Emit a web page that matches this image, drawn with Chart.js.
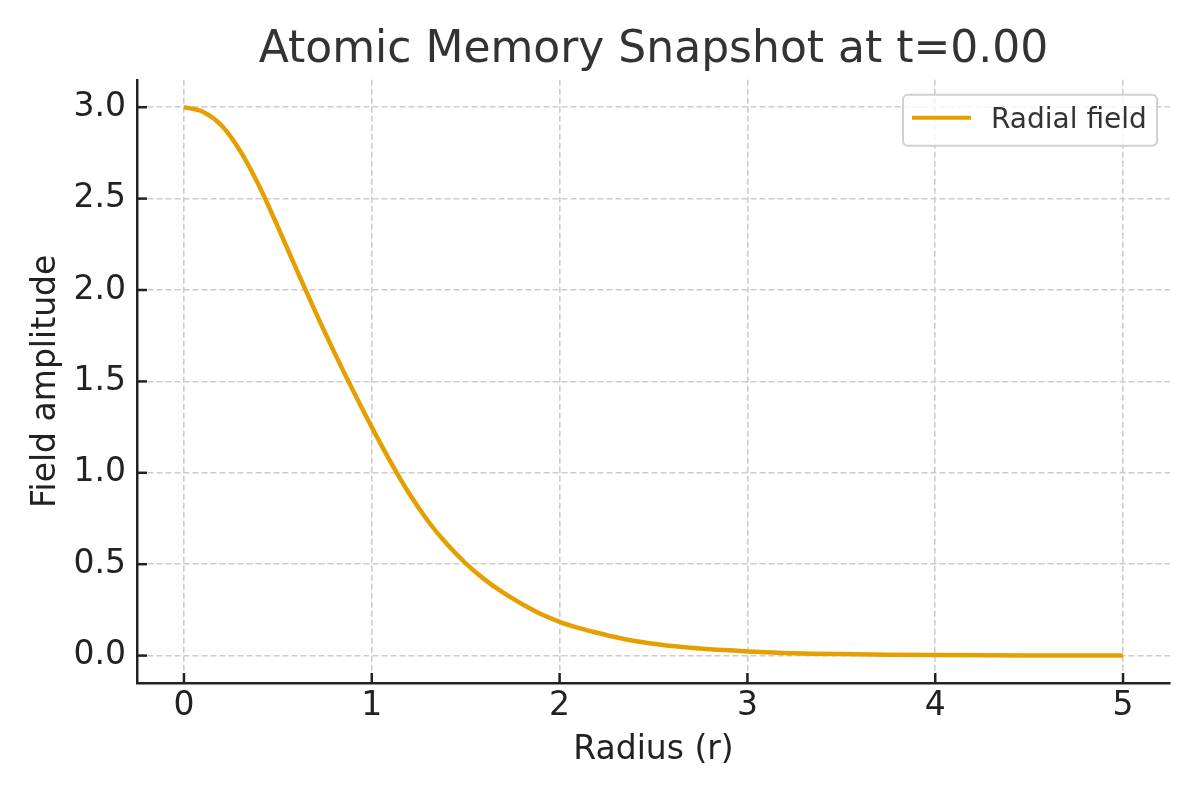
<!DOCTYPE html>
<html>
<head>
<meta charset="utf-8">
<script src="https://cdn.jsdelivr.net/npm/chart.js@4.4.1/dist/chart.umd.min.js"></script>
<style>
  html, body { margin: 0; padding: 0; background: #fff; }
  #wrap { width: 1200px; height: 800px; }
</style>
</head>
<body>
<div id="wrap"><canvas id="fieldChart" width="1200" height="800"></canvas></div>
<script>
// radius values and field amplitude
const radius = [0, 0.1, 0.2, 0.3, 0.4, 0.5, 0.6, 0.7, 0.8, 0.9, 1.0, 1.1, 1.2, 1.3, 1.4, 1.5, 1.6, 1.7, 1.8, 1.9, 2.0, 2.1, 2.2, 2.3, 2.4, 2.5, 2.6, 2.8, 3.0, 3.25, 3.5, 3.75, 4.0, 4.5, 5.0];
const amplitude = [3.000, 2.975, 2.900, 2.760, 2.570, 2.345, 2.110, 1.880, 1.660, 1.450, 1.250, 1.060, 0.885, 0.735, 0.610, 0.505, 0.417, 0.344, 0.282, 0.227, 0.185, 0.152, 0.125, 0.100, 0.080, 0.065, 0.052, 0.034, 0.023, 0.013, 0.008, 0.005, 0.003, 0.001, 0.0003];
const xTicks = [0, 1, 2, 3, 4, 5];
const yTicks = [0, 0.5, 1.0, 1.5, 2.0, 2.5, 3.0];

const FONT = "'DejaVu Sans', sans-serif";
const INK = '#222222';
const GRID = '#cccccc';

// matplotlib-style inward tick marks
const inwardTicks = {
  id: 'inwardTicks',
  afterDraw(chart) {
    const { ctx, chartArea, scales } = chart;
    ctx.save();
    ctx.strokeStyle = INK;
    ctx.lineWidth = 2.5;
    scales.x.ticks.forEach(t => {
      const px = scales.x.getPixelForValue(t.value);
      ctx.beginPath(); ctx.moveTo(px, chartArea.bottom); ctx.lineTo(px, chartArea.bottom - 10); ctx.stroke();
    });
    scales.y.ticks.forEach(t => {
      const py = scales.y.getPixelForValue(t.value);
      ctx.beginPath(); ctx.moveTo(chartArea.left, py); ctx.lineTo(chartArea.left + 10, py); ctx.stroke();
    });
    ctx.restore();
  }
};

// legend box in the upper right of the plot
const innerLegend = {
  id: 'innerLegend',
  afterDraw(chart) {
    const { ctx, chartArea } = chart;
    const ds = chart.data.datasets[0];
    const right = chartArea.right - 13, top = chartArea.top + 15;
    const w = 254, h = 51;
    const left = right - w;
    ctx.save();
    ctx.fillStyle = 'rgba(255,255,255,0.8)';
    ctx.strokeStyle = '#d0d0d0';
    ctx.lineWidth = 2;
    ctx.beginPath();
    ctx.roundRect(left, top, w, h, 5);
    ctx.fill(); ctx.stroke();
    ctx.strokeStyle = ds.borderColor;
    ctx.lineWidth = 4;
    ctx.beginPath(); ctx.moveTo(left + 9, top + 23); ctx.lineTo(left + 68, top + 23); ctx.stroke();
    ctx.fillStyle = '#333333';
    ctx.font = '28px ' + FONT;
    ctx.textBaseline = 'alphabetic';
    ctx.fillText(ds.label, left + 88, top + 33);
    ctx.restore();
  }
};

new Chart(document.getElementById('fieldChart'), {
  type: 'line',
  data: {
    datasets: [{
      label: 'Radial field',
      data: radius.map((r, i) => ({ x: r, y: amplitude[i] })),
      borderColor: '#E69F00',
      borderWidth: 4.5,
      pointRadius: 0,
      cubicInterpolationMode: 'monotone',
      fill: false
    }]
  },
  options: {
    responsive: false,
    animation: false,
    layout: { padding: { left: 0, right: 30, top: 0, bottom: 0 } },
    plugins: {
      legend: { display: false },
      tooltip: { enabled: false },
      title: {
        display: true,
        fullSize: false,
        text: 'Atomic Memory Snapshot at t=0.00',
        color: '#333333',
        font: { family: FONT, size: 44, weight: 'normal' },
        padding: { top: 24, bottom: 3 }
      }
    },
    scales: {
      x: {
        type: 'linear',
        min: -0.25, max: 5.25,
        afterBuildTicks: s => { s.ticks = xTicks.map(v => ({ value: v })); },
        afterFit: s => { s.height = 117; },
        grid: { color: GRID, lineWidth: 1.6, drawTicks: false },
        border: { display: true, color: INK, width: 2.5, dash: [6, 3] },
        ticks: { color: INK, padding: 4, font: { family: FONT, size: 33 }, maxRotation: 0, callback: v => String(v) },
        title: { display: true, text: 'Radius (r)', color: INK, font: { family: FONT, size: 33 }, padding: { top: 0, bottom: 30 } }
      },
      y: {
        type: 'linear',
        min: -0.15, max: 3.15,
        afterBuildTicks: s => { s.ticks = yTicks.map(v => ({ value: v })); },
        afterFit: s => { s.width = 137; },
        grid: { color: GRID, lineWidth: 1.6, drawTicks: false },
        border: { display: true, color: INK, width: 2.5, dash: [6, 3] },
        ticks: { color: INK, padding: 11, font: { family: FONT, size: 33 }, callback: v => v.toFixed(1) },
        title: { display: true, text: 'Field amplitude', color: INK, font: { family: FONT, size: 33 }, padding: { top: 27, bottom: 0 } }
      }
    }
  },
  plugins: [inwardTicks, innerLegend]
});
</script>
</body>
</html>
